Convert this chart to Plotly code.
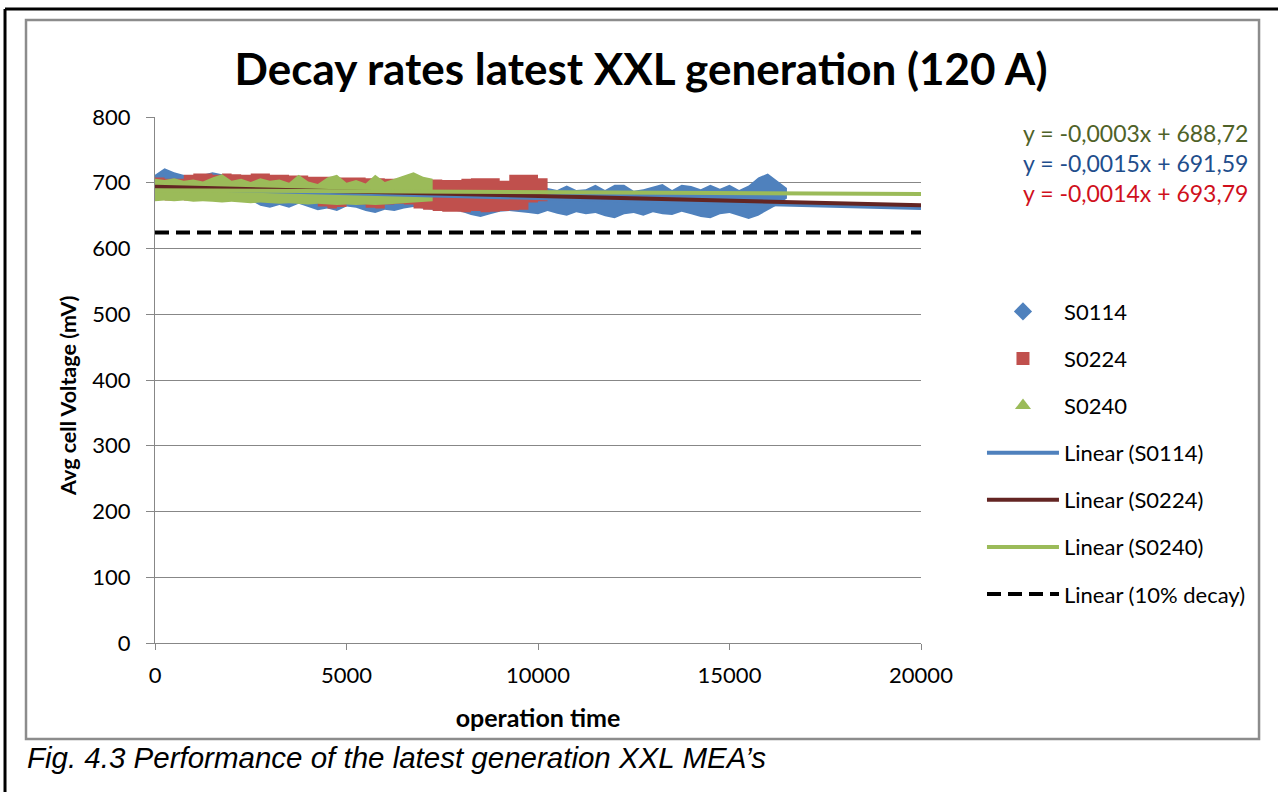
import plotly.graph_objects as go

# operation time (h) and visual envelope of the dense scatter clouds (mV)
s0114_hours = [0, 250, 500, 750, 1000, 1250, 1500, 1750, 2000, 2250, 2500, 2750, 3000, 3250,
               3500, 3750, 4000, 4250, 4500, 4750, 5000, 5250, 5500, 5750, 6000, 6250, 6500,
               6750, 7000, 7250, 7500, 7750, 8000, 8250, 8500, 8750, 9000, 9250, 9500, 9750,
               10000, 10250, 10500, 10750, 11000, 11250, 11500, 11750, 12000, 12250, 12500,
               12750, 13000, 13250, 13500, 13750, 14000, 14250, 14500, 14750, 15000, 15250,
               15500, 15750, 16000, 16250, 16500]
s0114_upper = [712, 722, 716, 712, 708, 712, 716, 713, 708, 705, 704, 703, 704, 702,
               703, 701, 702, 700, 702, 701, 700, 702, 700, 701, 700, 699, 700,
               699, 700, 698, 699, 698, 700, 698, 699, 697, 698, 697, 698, 697,
               696, 692, 689, 696, 689, 690, 697, 689, 697, 697, 688,
               690, 694, 698, 689, 697, 695, 690, 697, 691, 697, 689,
               696, 708, 714, 703, 692]
s0114_lower = [676, 674, 673, 674, 673, 674, 673, 674, 673, 673, 673, 665, 662, 666,
               662, 668, 663, 658, 661, 657, 664, 662, 657, 654, 659, 657, 661,
               663, 661, 659, 657, 658, 656, 651, 648, 652, 656, 657, 656, 654,
               652, 657, 653, 650, 655, 652, 654, 649, 646, 652, 654,
               650, 655, 652, 651, 656, 652, 648, 646, 652, 654, 650,
               645, 650, 658, 666, 676]

s0224_hours = [0, 250, 500, 750, 1000, 1250, 1500, 1750, 2000, 2250, 2500, 2750, 3000, 3250,
               3500, 3750, 4000, 4250, 4500, 4750, 5000, 5250, 5500, 5750, 6000, 6250, 6500,
               6750, 7000, 7250, 7500, 7750, 8000, 8250, 8500, 8750, 9000, 9250, 9500, 9750,
               10000, 10250]
s0224_upper = [708, 706, 706, 712, 714, 714, 712, 714, 713, 712, 714, 714, 712, 712,
               711, 711, 709, 709, 709, 708, 708, 708, 707, 707, 706, 706, 705,
               705, 705, 705, 704, 704, 706, 707, 707, 707, 703, 712, 712, 712,
               707, 707]
s0224_lower = [674, 673, 674, 673, 674, 673, 673, 673, 673, 672, 672, 672, 672, 671,
               671, 671, 670, 664, 661, 663, 668, 667, 662, 661, 667, 668, 667,
               661, 659, 657, 656, 656, 655, 657, 655, 656, 657, 658, 659, 670,
               672, 674]

s0240_hours = [0, 250, 500, 750, 1000, 1250, 1500, 1750, 2000, 2250, 2500, 2750, 3000, 3250,
               3500, 3750, 4000, 4250, 4500, 4750, 5000, 5250, 5500, 5750, 6000, 6250, 6500,
               6750, 7000, 7250]
s0240_upper = [706, 704, 707, 703, 705, 702, 708, 713, 703, 706, 701, 707, 703, 705,
               700, 712, 702, 698, 708, 712, 700, 704, 699, 712, 701, 706, 712,
               716, 709, 706]
s0240_lower = [672, 673, 672, 673, 671, 672, 671, 670, 671, 670, 669, 670, 669, 668,
               669, 668, 667, 668, 667, 666, 667, 666, 667, 666, 667, 668, 669,
               670, 671, 672]

# trend lines, read at both ends of the x axis
trend_hours = [0, 20000]
trend_s0114 = [691.6, 661.6]
trend_s0224 = [693.8, 665.8]
trend_s0240 = [688.7, 682.7]
decay_10pct = [624.4, 624.4]

equations = ["y = -0,0003x + 688,72", "y = -0,0015x + 691,59", "y = -0,0014x + 693,79"]
equation_colors = ["#4f6228", "#1f4e8c", "#d0101c"]

BLUE = "#4f81bd"
RED = "#c0504d"
GREEN = "#9bbb59"
BROWN = "#632523"
GRID = "#878787"

fig = go.Figure()

# clouds: lower edge, then upper edge filled down to it
clouds = [
    ("S0114", s0114_hours, s0114_upper, s0114_lower, BLUE, "linear"),
    ("S0224", s0224_hours, s0224_upper, s0224_lower, RED, "hv"),
    ("S0240", s0240_hours, s0240_upper, s0240_lower, GREEN, "linear"),
]
for name, hours, upper, lower, color, shape in clouds:
    fig.add_trace(go.Scatter(x=hours, y=lower, mode="lines", line=dict(width=0, shape=shape),
                             showlegend=False, hoverinfo="skip"))
    fig.add_trace(go.Scatter(x=hours, y=upper, mode="lines", fill="tonexty", fillcolor=color,
                             line=dict(width=0, shape=shape), showlegend=False, name=name))

# legend entries for the scatter series
symbols = {"S0114": ("diamond", BLUE, 14), "S0224": ("square", RED, 13), "S0240": ("triangle-up", GREEN, 14)}
rank = 1
for name, (sym, color, size) in symbols.items():
    fig.add_trace(go.Scatter(x=[None], y=[None], mode="markers", name=name,
                             marker=dict(symbol=sym, color=color, size=size),
                             legendgroup=name, legendrank=rank))
    rank += 1

trends = [
    ("Linear (S0114)", trend_s0114, BLUE, "solid"),
    ("Linear (S0224)", trend_s0224, BROWN, "solid"),
    ("Linear (S0240)", trend_s0240, GREEN, "solid"),
    ("Linear (10% decay)", decay_10pct, "black", "14px,7px"),
]
for name, vals, color, dash in trends:
    fig.add_trace(go.Scatter(x=trend_hours, y=vals, mode="lines", name=name,
                             line=dict(color=color, width=4, dash=dash),
                             legendgroup=name, legendrank=rank))
    rank += 1

# trend line equations, top right
for i, (text, color) in enumerate(zip(equations, equation_colors)):
    fig.add_annotation(text=text, x=1.4295, y=0.970 - i * 0.057, xref="paper", yref="paper",
                       xanchor="right", yanchor="middle", showarrow=False,
                       font=dict(family="Lato", size=23, color=color))

# y title sits a bit below the axis centre, so it is an annotation
fig.add_annotation(text="<b>Avg cell Voltage (mV)</b>", x=-0.1136, y=0.4715, xref="paper", yref="paper",
                   textangle=-90, xanchor="center", yanchor="middle", showarrow=False,
                   font=dict(family="Lato", size=21.5, color="black"))

fig.add_annotation(text="Fig. 4.3 Performance of the latest generation XXL MEA’s",
                   x=-0.1698, y=-0.2186, xref="paper", yref="paper", xanchor="left",
                   yanchor="middle", showarrow=False,
                   font=dict(family="Liberation Sans Narrow, Liberation Sans", size=29.5,
                             color="black", style="italic"))

# outer page border and chart frame
fig.add_shape(type="line", x0=-0.1958, x1=-0.1958, y0=1.2053, y1=-0.35, xref="paper", yref="paper",
              line=dict(color="black", width=3))
fig.add_shape(type="line", x0=-0.1958, x1=1.5, y0=1.2053, y1=1.2053, xref="paper", yref="paper",
              line=dict(color="black", width=3))
fig.add_shape(type="rect", x0=-0.1684, x1=1.4413, y0=-0.1825, y1=1.1844, xref="paper", yref="paper",
              line=dict(color="#8c8c8c", width=2.5))

fig.update_layout(
    width=1278,
    height=792,
    margin=dict(l=155, r=357, t=117, b=149),
    paper_bgcolor="white",
    plot_bgcolor="white",
    font=dict(family="Lato", color="black"),
    title=dict(text="<b>Decay rates latest XXL generation (120 A)</b>", x=0.5016, y=0.912,
               xanchor="center", yanchor="middle", font=dict(family="Lato", size=44, color="black")),
    legend=dict(x=1.0796, y=0.67, xanchor="left", yanchor="top", font=dict(family="Lato", size=22),
                tracegroupgap=15.5, itemwidth=72, bgcolor="rgba(0,0,0,0)"),
    showlegend=True,
)
fig.update_xaxes(range=[0, 20000], dtick=5000, tickformat="d", showgrid=False, zeroline=False,
                 showline=True, linecolor=GRID, ticks="outside", ticklen=6, tickcolor=GRID,
                 tickfont=dict(size=22, color="black"), ticklabelstandoff=7,
                 title=dict(text="<b>operation time</b>", font=dict(size=25), standoff=22))
fig.update_yaxes(range=[0, 800], dtick=100, showgrid=True, gridcolor=GRID, zeroline=False,
                 showline=True, linecolor=GRID, ticks="outside", ticklen=8, tickcolor=GRID,
                 tickfont=dict(size=22, color="black"), ticklabelstandoff=11)

fig.write_html("out.html", config={"displayModeBar": False},
               post_script="document.body.style.margin = '0';")
